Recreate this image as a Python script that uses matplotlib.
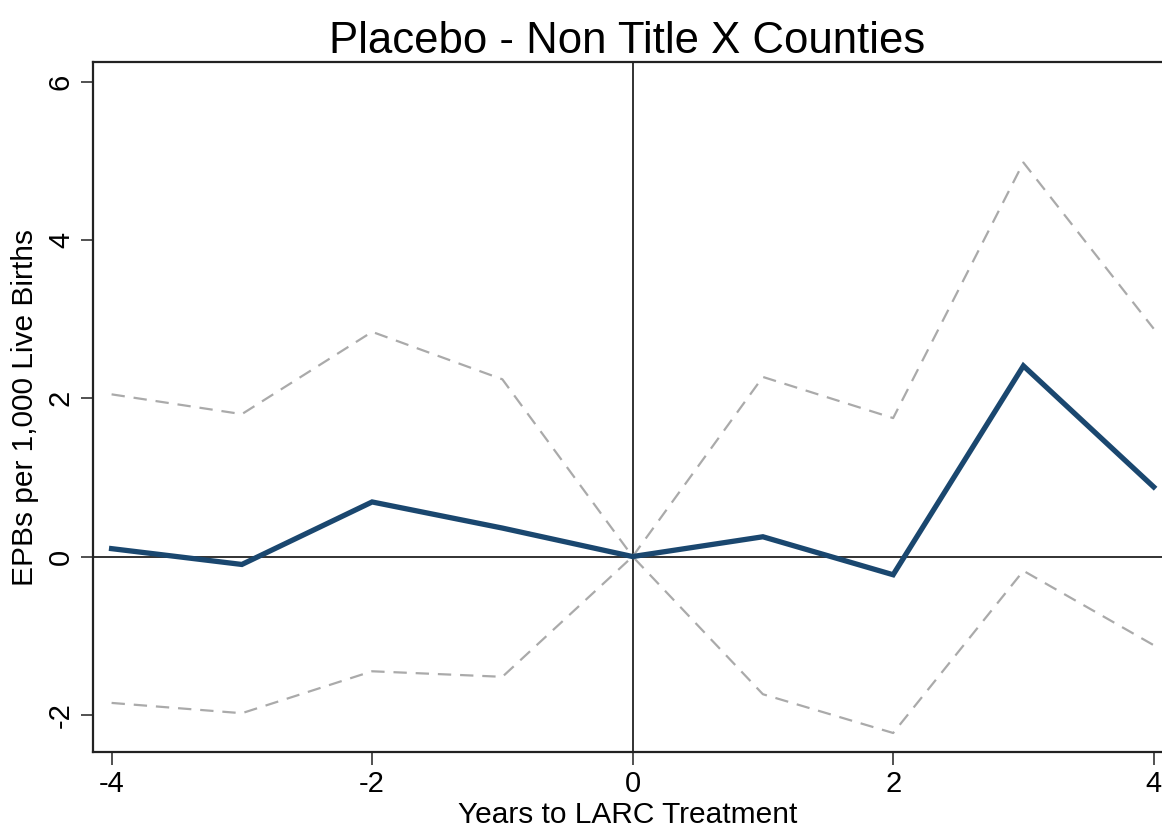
import matplotlib.pyplot as plt

plt.rcParams['font.family'] = ['Liberation Sans', 'DejaVu Sans']
plt.rcParams['axes.unicode_minus'] = False

years = [-4, -3, -2, -1, 0, 1, 2, 3, 4]
coef = [0.10, -0.10, 0.69, 0.36, 0.0, 0.25, -0.23, 2.41, 0.88]
upper = [2.05, 1.80, 2.84, 2.24, 0.0, 2.27, 1.75, 4.98, 2.88]
lower = [-1.85, -1.98, -1.45, -1.52, 0.0, -1.74, -2.23, -0.18, -1.12]

fig = plt.figure(figsize=(11.62, 8.36), dpi=100)
ax = fig.add_axes([0.080, 0.1005, 0.92, 0.8253])

ax.axhline(0, color='#222222', lw=1.3, zorder=1)
ax.axvline(0, color='#222222', lw=1.3, zorder=1)
ax.plot(years, upper, color='#aaaaaa', lw=1.6, dashes=(6, 4), zorder=2)
ax.plot(years, lower, color='#aaaaaa', lw=1.6, dashes=(6, 4), zorder=2)
ax.plot(years, coef, color='#1a476f', lw=3.8, zorder=3, solid_joinstyle='miter')

ax.set_xlim(-4.143, 4.064)
ax.set_ylim(-2.47, 6.25)
ax.set_xticks([-4, -2, 0, 2, 4])
ax.set_yticks([-2, 0, 2, 4, 6])
ax.tick_params(axis='both', direction='out', length=9, width=1.2, labelsize=21, color='#333333')
ax.tick_params(axis='x', pad=4)
ax.tick_params(axis='y', pad=4)
for lab in ax.get_yticklabels():
    lab.set_rotation(90)
    lab.set_va('center')

for side in ['left', 'bottom', 'top']:
    ax.spines[side].set_linewidth(1.6)
    ax.spines[side].set_color('#222222')
ax.spines['right'].set_visible(False)

ax.set_title('Placebo - Non Title X Counties', fontsize=31.5, pad=6)
ax.set_xlabel('Years to LARC Treatment', fontsize=21.5, labelpad=2)
ax.set_ylabel('EPBs per 1,000 Live Births', fontsize=21.5, labelpad=6)

fig.savefig('out.png', dpi=100)
